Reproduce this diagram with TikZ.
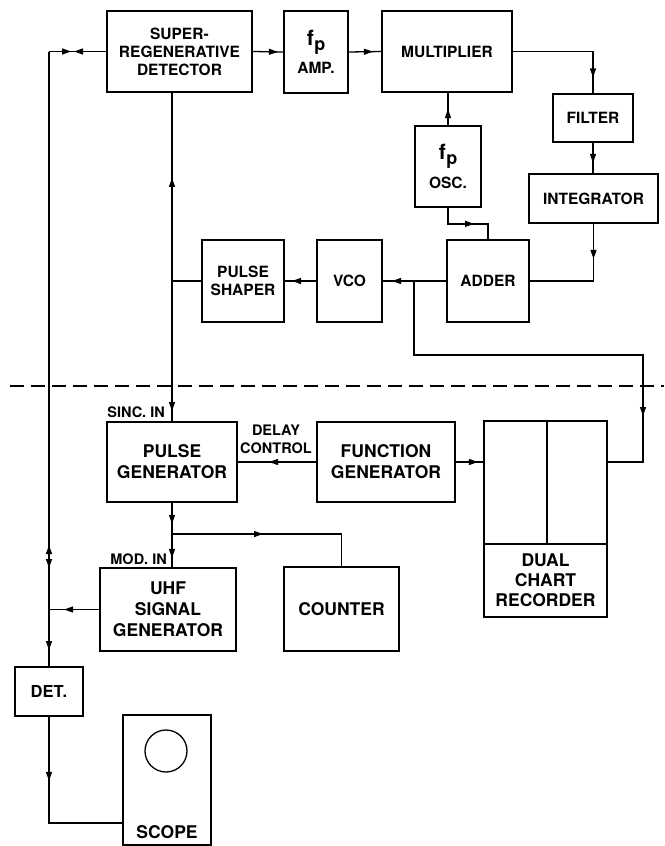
\documentclass[tikz,border=0pt]{standalone}
\usepackage{fontspec}
\setmainfont{TeX Gyre Heros}
\usetikzlibrary{arrows.meta,decorations.markings}
\tikzset{
  box/.style={draw, line width=1.8pt, inner sep=0pt, align=center},
  topbox/.style={box, font=\fontsize{15.5}{18}\selectfont\bfseries},
  botbox/.style={box, font=\fontsize{17.5}{21}\selectfont\bfseries},
  lbl/.style={inner sep=0pt, align=center, font=\fontsize{14.5}{18}\selectfont\bfseries},
  wire/.style={line width=1.3pt},
  fwd/.style={postaction={decorate,decoration={markings,mark=at position #1 with {\arrow{Triangle[length=9pt,width=6pt]}}}}},
  bwd/.style={postaction={decorate,decoration={markings,mark=at position #1 with {\arrowreversed{Triangle[length=9pt,width=6pt]}}}}},
}
\newcommand{\fpsym}{{\fontsize{21}{21}\selectfont f\kern0.5pt\raisebox{-5pt}{\fontsize{18}{18}\selectfont p}}}
\begin{document}
\begin{tikzpicture}[x=1pt,y=-1pt]
\useasboundingbox (0,0) rectangle (664,846);

% upper part
\node[topbox, minimum width=145pt, minimum height=81pt] (srd) at (179.5,51.5) {SUPER-\\REGENERATIVE\\DETECTOR};
\node[topbox, minimum width=64pt, minimum height=82pt] (amp) at (316,52) {\fpsym\\[7pt]AMP.};
\node[topbox, minimum width=130pt, minimum height=81pt] (mult) at (447,51.5) {MULTIPLIER};
\node[topbox, minimum width=80pt, minimum height=48pt] (filter) at (593,118) {FILTER};
\node[topbox, minimum width=129pt, minimum height=49pt] (integ) at (593.5,198.5) {INTEGRATOR};
\node[topbox, minimum width=66pt, minimum height=81pt] (osc) at (448,166.5) {\fpsym\\[7pt]OSC.};
\node[topbox, minimum width=82pt, minimum height=82pt] (adder) at (488,281) {ADDER};
\node[topbox, minimum width=65pt, minimum height=82pt] (vco) at (349.5,281) {VCO};
\node[topbox, minimum width=82pt, minimum height=82pt] (shaper) at (243,281) {PULSE\\SHAPER};

% lower part
\node[botbox, minimum width=130pt, minimum height=80pt] (pgen) at (172,462) {PULSE\\GENERATOR};
\node[botbox, minimum width=138pt, minimum height=80pt] (fgen) at (386,462) {FUNCTION\\GENERATOR};
\node[box, minimum width=123pt, minimum height=196pt] (rec) at (545.5,519) {};
\node[lbl, font=\fontsize{17.5}{20}\selectfont\bfseries] (reclbl) at (545.5,580) {DUAL\\CHART\\RECORDER};
\node[botbox, minimum width=136pt, minimum height=83pt] (uhf) at (168,609.5) {UHF\\SIGNAL\\GENERATOR};
\node[botbox, minimum width=115pt, minimum height=84pt] (counter) at (341.5,609) {COUNTER};
\node[botbox, font=\fontsize{16.5}{20}\selectfont\bfseries, minimum width=68pt, minimum height=49pt] (detbox) at (49,691.5) {DET.};
\node[box, minimum width=88pt, minimum height=130pt] (scope) at (167,780) {};
\node[draw, circle, line width=1.3pt, minimum size=42pt, inner sep=0pt] (tube) at (166,751) {};
\node[lbl, font=\fontsize{17.5}{21}\selectfont\bfseries] (scopelbl) at (167,832) {SCOPE};

\node[lbl, anchor=east] (sinc) at (165,412) {SINC. IN};
\node[lbl, anchor=east] (modin) at (167,559) {MOD. IN};
\node[lbl, font=\fontsize{14.5}{18}\selectfont\bfseries] (delay) at (276,439) {DELAY\\CONTROL};

% recorder dividers
\coordinate (rdiv) at (547,544);
\draw[line width=1.8pt] (rec.west |- rdiv) -- (rec.east |- rdiv);
\draw[line width=1.8pt] (rdiv |- rec.north) -- (rdiv);

% coordinates
\coordinate (busT) at (49,52);
\coordinate (j1) at (414,281);
\coordinate (b1) at (414,355);
\coordinate (b2) at (643,355);
\coordinate (j2) at (172,534);
\coordinate (sc) at (49,823);
\coordinate (dl) at (10,386);
\coordinate (dr) at (664,386);

% dashed separator
\draw[wire, dash pattern=on 14pt off 7pt] (dl) -- (dr);

% connectors upper
\draw[wire, fwd=32pt, bwd=35pt] (srd.west) -- (srd.west -| busT);
\draw[wire, fwd=25pt] (srd.east) -- (amp.west);
\draw[wire, fwd=24pt] (amp.east) -- (mult.west);
\draw[wire, fwd=106pt] (mult.east) -| (filter.north);
\draw[wire, fwd=20pt] (filter.south) -- (filter.south |- integ.north);
\draw[wire, fwd=35pt] (integ.south) |- (adder.east);
\draw[wire, fwd=16pt] (osc.north) -- (osc.north |- mult.south);
\draw[wire, fwd=42pt] (osc.south) -- ++(0,16) -| (adder.north);
\draw[wire, fwd=54pt] (adder.west) -- (vco.east);
\draw[wire, fwd=24pt] (vco.west) -- (shaper.east);
\draw[wire] (shaper.west) -- (shaper.west -| pgen.north);
\draw[wire, bwd=85pt, fwd=318pt] (srd.south -| pgen.north) -- (pgen.north);
\draw[wire, fwd=364pt] (j1) -- (b1) -- (b2) |- (rec.east |- fgen.east);

% connectors lower
\draw[wire, fwd=47pt] (fgen.west) -- (pgen.east);
\draw[wire, fwd=22pt] (fgen.east) -- (rec.west |- fgen.east);
\draw[wire, fwd=21pt, fwd=55pt] (pgen.south) -- (pgen.south |- uhf.north);
\draw[wire, fwd=91pt] (j2) -| (counter.north);
\draw[wire, bwd=493pt, fwd=516pt, fwd=598pt] (busT) -- (detbox.north);
\draw[wire, fwd=35pt] (uhf.west) -- (uhf.west -| busT);
\draw[wire, fwd=64pt] (detbox.south) -- (sc) -- (sc -| scope.west);
\end{tikzpicture}
\end{document}
